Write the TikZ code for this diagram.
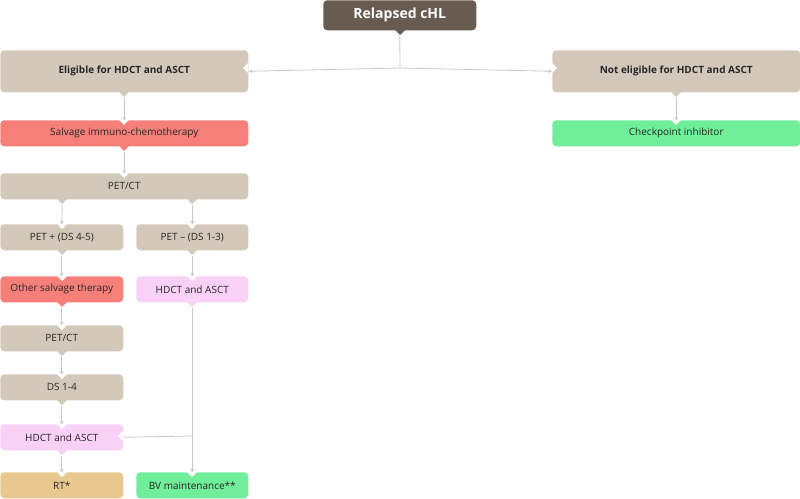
\documentclass[tikz,border=0pt]{standalone}
\usepackage{fontspec}
\setmainfont{Open Sans}
\usetikzlibrary{arrows.meta}
\definecolor{dark}{HTML}{675C4F}
\definecolor{tan}{HTML}{D3C9BA}
\definecolor{red}{HTML}{F77F7A}
\definecolor{grn}{HTML}{70EE99}
\definecolor{pnk}{HTML}{F9D0F6}
\definecolor{ylw}{HTML}{E8C88F}
\definecolor{ln}{HTML}{C8C8C8}
\begin{document}
\begin{tikzpicture}[x=0.75pt,y=-0.75pt,
 box/.style={rounded corners=3pt,inner sep=0pt,font=\fontsize{7.5}{9}\selectfont,text=black!85},
 con/.style={draw=ln,line width=0.6pt},
 arr/.style={con,-{Stealth[length=3pt,width=3pt]}}]
\useasboundingbox (0,0) rectangle (800,499);
\newcommand\bx[7]{%
 \node[box,fill=#6,anchor=north west,minimum width={(#4-#2)*0.75pt},minimum height={(#5-#3)*0.75pt}] (#1) at (#2,#3) {#7};}
\newcommand\tail[3]{\fill[#3] (#1-5,#2) -- (#1,#2+5) -- (#1+5,#2) -- cycle;}
\newcommand\notch[2]{\fill[white] (#1-5,#2) -- (#1,#2+5) -- (#1+5,#2) -- cycle;}
% connectors first
\coordinate (j1) at (400,68);
\coordinate (j2) at (192,436);
\bx{rel}{323}{0}{476}{30}{dark}{\textcolor{white}{\fontsize{10.5}{12}\selectfont\bfseries Relapsed cHL}}
\bx{el}{0}{50}{248}{92}{tan}{\bfseries Eligible for HDCT and ASCT}
\bx{nel}{552}{50}{800}{92}{tan}{\bfseries Not eligible for HDCT and ASCT}
\bx{sal}{0}{120}{248}{146}{red}{Salvage immuno-chemotherapy}
\bx{chk}{552}{120}{800}{146}{grn}{Checkpoint inhibitor}
\bx{pet}{0}{173}{248}{199}{tan}{PET/CT}
\bx{pp}{0}{224}{123}{250}{tan}{PET + (DS 4-5)}
\bx{pm}{136}{224}{248}{250}{tan}{PET – (DS 1-3)}
\bx{oth}{0}{276}{123}{302}{red}{Other salvage therapy}
\bx{hd1}{136}{276}{248}{302}{pnk}{HDCT and ASCT}
\bx{pet2}{0}{325}{123}{351}{tan}{PET/CT}
\bx{ds}{0}{374}{123}{400}{tan}{DS 1-4}
\bx{hd2}{0}{424}{123}{450}{pnk}{HDCT and ASCT}
\bx{rt}{0}{472}{123}{498}{ylw}{RT*}
\bx{bv}{136}{472}{248}{498}{grn}{BV maintenance**}
% connectors
\draw[con] (rel.south) ++(0,5) -- (j1);
\draw[arr] (j1) -- (el.east);
\draw[arr] (j1) -- (nel.west);
\draw[arr] ([yshift=-3.75pt]el.south) -- ([yshift=-0.5pt]sal.north);
\draw[arr] ([yshift=-3.75pt]nel.south) -- ([yshift=-0.5pt]chk.north);
\draw[arr] ([yshift=-3.75pt]sal.south) -- ([yshift=-0.5pt]pet.north);
\draw[arr] ([xshift=-46.5pt,yshift=-3.75pt]pet.south) -- ([yshift=-0.5pt]pp.north);
\draw[arr] ([xshift=51pt,yshift=-3.75pt]pet.south) -- ([yshift=-0.5pt]pm.north);
\draw[arr] ([yshift=-3.75pt]pp.south) -- ([yshift=-0.5pt]oth.north);
\draw[arr] ([yshift=-3.75pt]pm.south) -- ([yshift=-0.5pt]hd1.north);
\draw[arr] ([yshift=-3.75pt]oth.south) -- ([yshift=-0.5pt]pet2.north);
\draw[arr] ([yshift=-3.75pt]pet2.south) -- ([yshift=-0.5pt]ds.north);
\draw[arr] ([yshift=-3.75pt]ds.south) -- ([yshift=-0.5pt]hd2.north);
\draw[arr] ([yshift=-3.75pt]hd2.south) -- ([yshift=-0.5pt]rt.north);
\draw[arr] ([yshift=-3.75pt]hd1.south) -- ([yshift=-0.5pt]bv.north);
\draw[con] (hd2.east) -- (j2);
% tails and notches
\tail{400}{30}{dark}
\fill[white] (248,63)--(243,68)--(248,73)--cycle;
\fill[white] (552,63)--(557,68)--(552,73)--cycle;
\fill[white] (123,431)--(118,436)--(123,441)--cycle;
\tail{124}{92}{tan}\tail{676}{92}{tan}
\tail{124}{146}{red}\tail{62}{199}{tan}\tail{192}{199}{tan}
\tail{62}{250}{tan}\tail{192}{250}{tan}\tail{62}{302}{red}\tail{192}{302}{pnk}
\tail{62}{351}{tan}\tail{62}{400}{tan}\tail{62}{450}{pnk}
\notch{124}{120}\notch{676}{120}\notch{124}{173}\notch{62}{224}\notch{192}{224}
\notch{62}{276}\notch{192}{276}\notch{62}{325}\notch{62}{374}\notch{62}{424}
\notch{62}{472}\notch{192}{472}
\end{tikzpicture}
\end{document}
